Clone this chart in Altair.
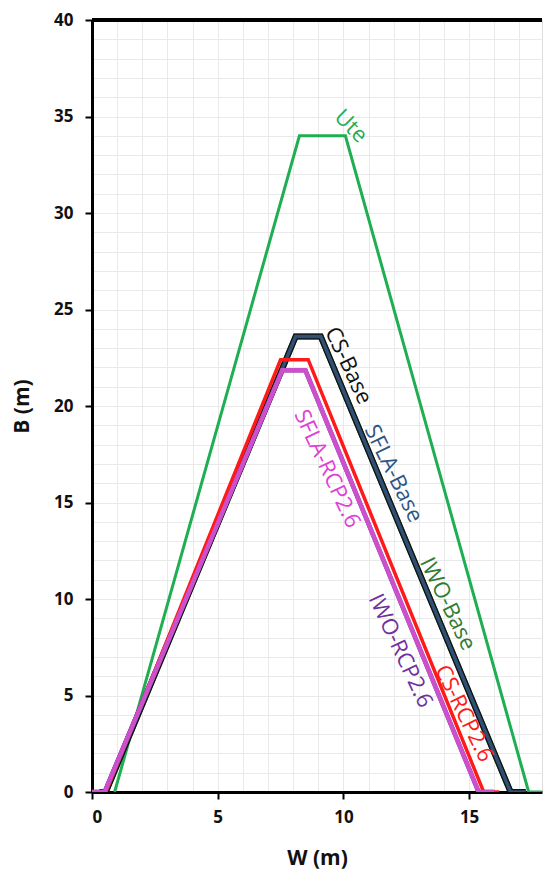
import altair as alt
import pandas as pd

# ---- data ----
series_names = ["Ute", "IWO-Base", "CS-Base", "SFLA-Base", "IWO-RCP2.6", "CS-RCP2.6", "SFLA-RCP2.6"]
ute_x = [0.9, 8.25, 10.08, 17.37, 18.5]
ute_y = [0, 34, 34, 0, 0]
base_x = [0.3, 0.55, 8.1, 9.1, 16.65, 17.25]
base_y = [0, 0, 23.6, 23.6, 0, 0]
cs_rcp_x = [0.3, 0.55, 7.5, 8.6, 15.58, 16.2]
cs_rcp_y = [0, 0, 22.4, 22.4, 0, 0]
rcp_x = [0.0, 0.5, 7.57, 8.49, 15.38, 16.0]
rcp_y = [0, 0, 21.85, 21.85, 0, 0]

line_colors = ["#1fae52", "#2e7d32", "#111111", "#2f4f73", "#7030a0", "#ff1a1a", "#cc4fcc"]
line_widths = [3, 6, 6, 3.5, 4.5, 3.5, 4.5]

label_text = ["Ute", "CS-Base", "SFLA-Base", "IWO-Base", "SFLA-RCP2.6", "IWO-RCP2.6", "CS-RCP2.6"]
label_x = [10.3, 10.2, 12.0, 14.15, 9.36, 12.27, 14.8]
label_y = [34.5, 22.1, 16.5, 9.75, 16.75, 7.32, 4.07]
label_angle = [45, 65, 64, 64, 65, 65, 64]
label_color = ["#1fae52", "#111111", "#2f5583", "#2e7d32", "#e040d8", "#7030a0", "#ff1a1a"]

grid_vals_x = list(range(0, 18))
grid_vals_y = list(range(0, 41))

# ---- build table ----
xs = [ute_x, base_x, base_x, base_x, rcp_x, cs_rcp_x, rcp_x]
ys = [ute_y, base_y, base_y, base_y, rcp_y, cs_rcp_y, rcp_y]
rows = []
for i, name in enumerate(series_names):
    for j, (xv, yv) in enumerate(zip(xs[i], ys[i])):
        rows.append({"series": name, "order": j, "W": xv, "B": yv})
df = pd.DataFrame(rows)

labels = pd.DataFrame({"text": label_text, "W": label_x, "B": label_y,
                       "angle": label_angle, "color": label_color})

XMAX = 17.9
xscale = alt.Scale(domain=[0, XMAX], nice=False, zero=False)
yscale = alt.Scale(domain=[0, 40], nice=False)

major5 = "datum.value % 5 === 0"

common = dict(
    labelExpr="datum.value % 5 === 0 ? datum.label : ''",
    grid=True, gridColor="#e9e9e9", gridWidth=1,
    tickSize=7, tickWidth=2, tickColor="black",
    tickOpacity=alt.condition(major5, alt.value(1), alt.value(0)),
    domainColor="black", domainWidth=3,
    labelFont="Open Sans", labelFontWeight="bold", labelFontSize=17, labelColor="#111",
    titleFont="Open Sans", titleFontWeight="bold", titleFontSize=21, titleColor="#111",
)
xaxis = alt.Axis(values=grid_vals_x, labelPadding=10, title="W (m)", titlePadding=22, **common)
yaxis = alt.Axis(values=grid_vals_y, labelPadding=12, title="B (m)", titlePadding=21, **common)

X = alt.X("W:Q", scale=xscale, axis=xaxis)
Y = alt.Y("B:Q", scale=yscale, axis=yaxis)

layers = []
for i, name in enumerate(series_names):
    layers.append(
        alt.Chart(df).transform_filter(alt.datum.series == name)
        .mark_line(color=line_colors[i], strokeWidth=line_widths[i], clip=True,
                   strokeJoin="miter")
        .encode(x=X, y=Y, order="order:Q")
    )

top = alt.Chart(df).mark_rule(color="black", strokeWidth=3).encode(
    y=alt.datum(40, axis=yaxis, scale=yscale))

text = alt.Chart(labels).mark_text(font="Open Sans", fontSize=22, align="center",
                                   baseline="middle").encode(
    x=X,
    y=Y,
    text="text:N",
    angle=alt.Angle("angle:Q", scale=None),
    color=alt.Color("color:N", scale=None),
)

chart = alt.layer(*layers, top, text).properties(
    width=450, height=772,
    autosize=alt.AutoSizeParams(type="none"),
    padding={"left": 84, "top": 12, "right": 1, "bottom": 80},
).configure_view(strokeWidth=0).configure(background="white")

chart.save("out.html", embed_options={"renderer": "svg", "actions": False})
